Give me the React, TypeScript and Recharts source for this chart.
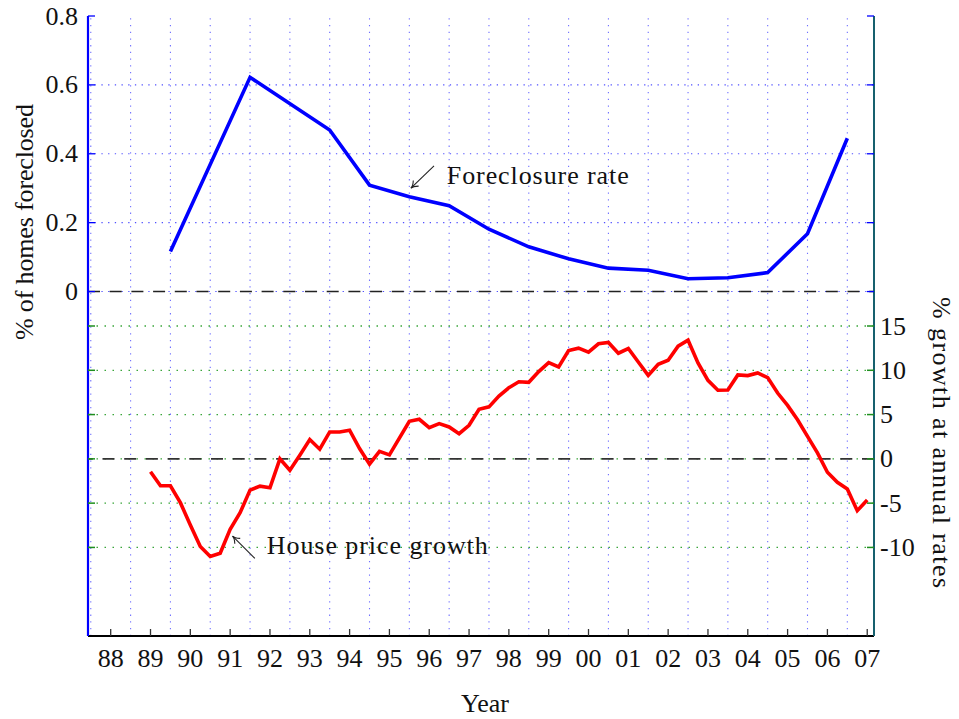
import React from 'react';
import { ComposedChart, Line, XAxis, YAxis, ReferenceLine, ReferenceDot } from 'recharts';

// ---------- data ----------
const tickYears = [1988, 1989, 1990, 1991, 1992, 1993, 1994, 1995, 1996, 1997, 1998, 1999, 2000, 2001, 2002, 2003, 2004, 2005, 2006, 2007];
const gridYears = [1987.5, 1988.5, 1989.5, 1990.5, 1991.5, 1992.5, 1993.5, 1994.5, 1995.5, 1996.5, 1997.5, 1998.5, 1999.5, 2000.5, 2001.5, 2002.5, 2003.5, 2004.5, 2005.5, 2006.5];
const leftTicks = [0, 0.2, 0.4, 0.6, 0.8];
const leftGrid = [0.2, 0.4, 0.6];
const rightTicks = [-10, -5, 0, 5, 10, 15];
const rightGrid = [-10, -5, 5, 10, 15];

const foreclosureYears = [1989.5, 1991.5, 1993.5, 1994.5, 1995.5, 1996.5, 1997.5, 1998.5, 1999.5, 2000.5, 2001.5, 2002.5, 2003.5, 2004.5, 2005.5, 2006.5];
const foreclosureRate = [0.116, 0.622, 0.469, 0.309, 0.275, 0.249, 0.181, 0.130, 0.095, 0.068, 0.062, 0.037, 0.040, 0.055, 0.168, 0.445];

const priceQuarters = [
  1989, 1989.25, 1989.5, 1989.75,
  1990, 1990.25, 1990.5, 1990.75,
  1991, 1991.25, 1991.5, 1991.75,
  1992, 1992.25, 1992.5, 1992.75,
  1993, 1993.25, 1993.5, 1993.75,
  1994, 1994.25, 1994.5, 1994.75,
  1995, 1995.25, 1995.5, 1995.75,
  1996, 1996.25, 1996.5, 1996.75,
  1997, 1997.25, 1997.5, 1997.75,
  1998, 1998.25, 1998.5, 1998.75,
  1999, 1999.25, 1999.5, 1999.75,
  2000, 2000.25, 2000.5, 2000.75,
  2001, 2001.25, 2001.5, 2001.75,
  2002, 2002.25, 2002.5, 2002.75,
  2003, 2003.25, 2003.5, 2003.75,
  2004, 2004.25, 2004.5, 2004.75,
  2005, 2005.25, 2005.5, 2005.75,
  2006, 2006.25, 2006.5, 2006.75,
  2007,
];
const priceGrowth = [
  -1.46, -3.04, -3.04, -4.95,
  -7.47, -9.9, -11.03, -10.66,
  -7.95, -6.08, -3.53, -3.08,
  -3.26, 0.0, -1.28, 0.41,
  2.18, 1.09, 3.04, 3.04,
  3.23, 1.16, -0.6, 0.85,
  0.45, 2.35, 4.24, 4.47,
  3.52, 3.98, 3.6, 2.84,
  3.79, 5.6, 5.87, 7.08,
  8.03, 8.71, 8.64, 9.85,
  10.87, 10.38, 12.23, 12.5,
  12.05, 12.99, 13.14, 11.93,
  12.46, 10.94, 9.43, 10.68,
  11.13, 12.72, 13.4, 10.83,
  8.87, 7.74, 7.77, 9.47,
  9.4, 9.7, 9.17, 7.43,
  6.04, 4.42, 2.53, 0.68,
  -1.51, -2.64, -3.4, -5.85,
  -4.64,
];

const foreclosureData = foreclosureYears.map((x, i) => ({ x, v: foreclosureRate[i] }));
const priceData = priceQuarters.map((x, i) => ({ x, v: priceGrowth[i] }));

// ---------- styling ----------
const FONT = "'Liberation Serif', 'DejaVu Serif', 'Times New Roman', serif";
const FS = 26;
const TXT = '#111';
const txtStyle: React.CSSProperties = { fontFamily: FONT, fontSize: FS, fill: TXT };
const CHART_W = 959;
const CHART_H = 719;
const LEFT_W = 88;
const RIGHT_W = 85;
const PLOT_W = CHART_W - LEFT_W - RIGHT_W;
const X_DOMAIN: [number, number] = [1987.43, 2007.17];

const fmtYear = (v: number) => String(Math.round(v) % 100).padStart(2, '0');

const BottomTick = (props: any) => {
  const { x, y, payload } = props;
  return (
    <g>
      <line x1={x} y1={y} x2={x} y2={y - 7} stroke="#333" strokeWidth={1.3} />
      <text x={x} y={y + 31} textAnchor="middle" style={txtStyle}>
        {fmtYear(payload.value)}
      </text>
    </g>
  );
};

const TopTick = (props: any) => {
  const { x, y } = props;
  return <line x1={x} y1={y} x2={x} y2={y + 7} stroke="#333" strokeWidth={1.3} />;
};

const LeftTick = (props: any) => {
  const { x, y, payload } = props;
  return (
    <g>
      <line x1={x} y1={y} x2={x + 7} y2={y} stroke="#0000ff" strokeWidth={1.3} />
      <line x1={x + PLOT_W} y1={y} x2={x + PLOT_W - 7} y2={y} stroke="#0000ff" strokeWidth={1.3} />
      <text x={x - 10} y={y + 8.5} textAnchor="end" style={txtStyle}>
        {String(payload.value)}
      </text>
    </g>
  );
};

const RightTick = (props: any) => {
  const { x, y, payload } = props;
  return (
    <g>
      <line x1={x} y1={y} x2={x - 7} y2={y} stroke="#1f8f1f" strokeWidth={1.5} />
      <line x1={x - PLOT_W} y1={y} x2={x - PLOT_W + 7} y2={y} stroke="#1f8f1f" strokeWidth={1.5} />
      <text x={x + 6} y={y + 8.5} textAnchor="start" style={txtStyle}>
        {String(payload.value)}
      </text>
    </g>
  );
};

const arrowShape = (props: any) => {
  const { x1, y1, x2, y2 } = props;
  const ang = Math.atan2(y2 - y1, x2 - x1);
  const L = 8;
  const s = 0.5;
  const ax = x2 - L * Math.cos(ang - s);
  const ay = y2 - L * Math.sin(ang - s);
  const bx = x2 - L * Math.cos(ang + s);
  const by = y2 - L * Math.sin(ang + s);
  const cx = x2 - 3 * Math.cos(ang);
  const cy = y2 - 3 * Math.sin(ang);
  return (
    <g>
      <line x1={x1} y1={y1} x2={x2} y2={y2} stroke="#222" strokeWidth={1.1} />
      <path d={`M${ax},${ay} Q${cx},${cy} ${x2},${y2} Q${cx},${cy} ${bx},${by}`} fill="none" stroke="#222" strokeWidth={1.1} />
    </g>
  );
};

const textShape = (label: string, len: number) => (props: any) => (
  <text x={props.cx} y={props.cy} style={txtStyle} textLength={len} lengthAdjust="spacing">
    {label}
  </text>
);

const LeftLabel = () => (
  <text x={33} y={222} transform="rotate(-90 33 222)" textAnchor="middle" style={txtStyle} textLength={236} lengthAdjust="spacing">
    % of homes foreclosed
  </text>
);
const RightLabel = () => (
  <text x={933} y={442.5} transform="rotate(90 933 442.5)" textAnchor="middle" style={txtStyle} textLength={291} lengthAdjust="spacing">
    % growth at annual rates
  </text>
);
const XLabel = () => (
  <text x={485} y={712} textAnchor="middle" style={txtStyle}>
    Year
  </text>
);

export default function App() {
  return (
    <div style={{ width: CHART_W, height: CHART_H, background: '#fff', margin: '-8px 0 0 -8px', fontFamily: FONT }}>
      <ComposedChart width={CHART_W} height={CHART_H} margin={{ top: 16, right: 0, bottom: 0, left: 0 }}>
        <XAxis
          type="number"
          dataKey="x"
          domain={X_DOMAIN}
          allowDataOverflow
          ticks={tickYears}
          interval={0}
          height={83}
          tickSize={0}
          tickMargin={0}
          tickLine={false}
          tick={<BottomTick />}
          axisLine={{ stroke: '#000', strokeWidth: 1.8 }}
          label={<XLabel />}
        />
        <XAxis
          xAxisId="top"
          orientation="top"
          type="number"
          domain={X_DOMAIN}
          allowDataOverflow
          ticks={tickYears}
          interval={0}
          height={0}
          tickSize={0}
          tickMargin={0}
          tickLine={false}
          tick={<TopTick />}
          axisLine={{ stroke: '#000', strokeWidth: 1.5 }}
        />
        <YAxis
          yAxisId="left"
          orientation="left"
          type="number"
          domain={[-1, 0.8]}
          allowDataOverflow
          ticks={leftTicks}
          interval={0}
          width={LEFT_W}
          tickSize={0}
          tickMargin={0}
          tickLine={false}
          tick={<LeftTick />}
          axisLine={{ stroke: '#0000ff', strokeWidth: 2.2 }}
          label={<LeftLabel />}
        />
        <YAxis
          yAxisId="right"
          orientation="right"
          type="number"
          domain={[-20, 50]}
          allowDataOverflow
          ticks={rightTicks}
          interval={0}
          width={RIGHT_W}
          tickSize={0}
          tickMargin={0}
          tickLine={false}
          tick={<RightTick />}
          axisLine={{ stroke: '#16606e', strokeWidth: 2 }}
          label={<RightLabel />}
        />

        {gridYears.map((g) => (
          <ReferenceLine key={`vg${g}`} x={g} yAxisId="left" stroke="#7070ff" strokeWidth={1.1} strokeDasharray="1.3 5.4" />
        ))}
        {leftGrid.map((g) => (
          <ReferenceLine key={`lg${g}`} y={g} yAxisId="left" stroke="#5050ff" strokeWidth={1.1} strokeDasharray="1.3 5.4" />
        ))}
        {rightGrid.map((g) => (
          <ReferenceLine key={`rg${g}`} y={g} yAxisId="right" stroke="#3aa53a" strokeWidth={1.3} strokeDasharray="1.5 6.5" />
        ))}
        <ReferenceLine y={0} yAxisId="left" stroke="#5050ff" strokeWidth={1.1} strokeDasharray="1.3 5.4" />
        <ReferenceLine y={0} yAxisId="left" stroke="#222" strokeWidth={1.4} strokeDasharray="12 9.7" />
        <ReferenceLine y={0} yAxisId="right" stroke="#3aa53a" strokeWidth={1.3} strokeDasharray="1.5 6.5" />
        <ReferenceLine y={0} yAxisId="right" stroke="#333" strokeWidth={1.6} strokeDasharray="12 9.7" />

        <Line
          data={foreclosureData}
          dataKey="v"
          yAxisId="left"
          type="linear"
          stroke="#0000ff"
          strokeWidth={3.6}
          dot={false}
          activeDot={false}
          isAnimationActive={false}
        />
        <Line
          data={priceData}
          dataKey="v"
          yAxisId="right"
          type="linear"
          stroke="#ff0000"
          strokeWidth={3.6}
          dot={false}
          activeDot={false}
          isAnimationActive={false}
        />

        <ReferenceLine
          yAxisId="left"
          segment={[{ x: 1996.12, y: 0.365 }, { x: 1995.54, y: 0.3 }]}
          shape={arrowShape}
        />
        <ReferenceDot yAxisId="left" x={1996.44} y={0.312} r={0} shape={textShape('Foreclosure rate', 182)} />
        <ReferenceLine
          yAxisId="right"
          segment={[{ x: 1991.62, y: -11.24 }, { x: 1991.06, y: -8.73 }]}
          shape={arrowShape}
        />
        <ReferenceDot yAxisId="right" x={1991.92} y={-10.74} r={0} shape={textShape('House price growth', 221)} />
      </ComposedChart>
    </div>
  );
}
